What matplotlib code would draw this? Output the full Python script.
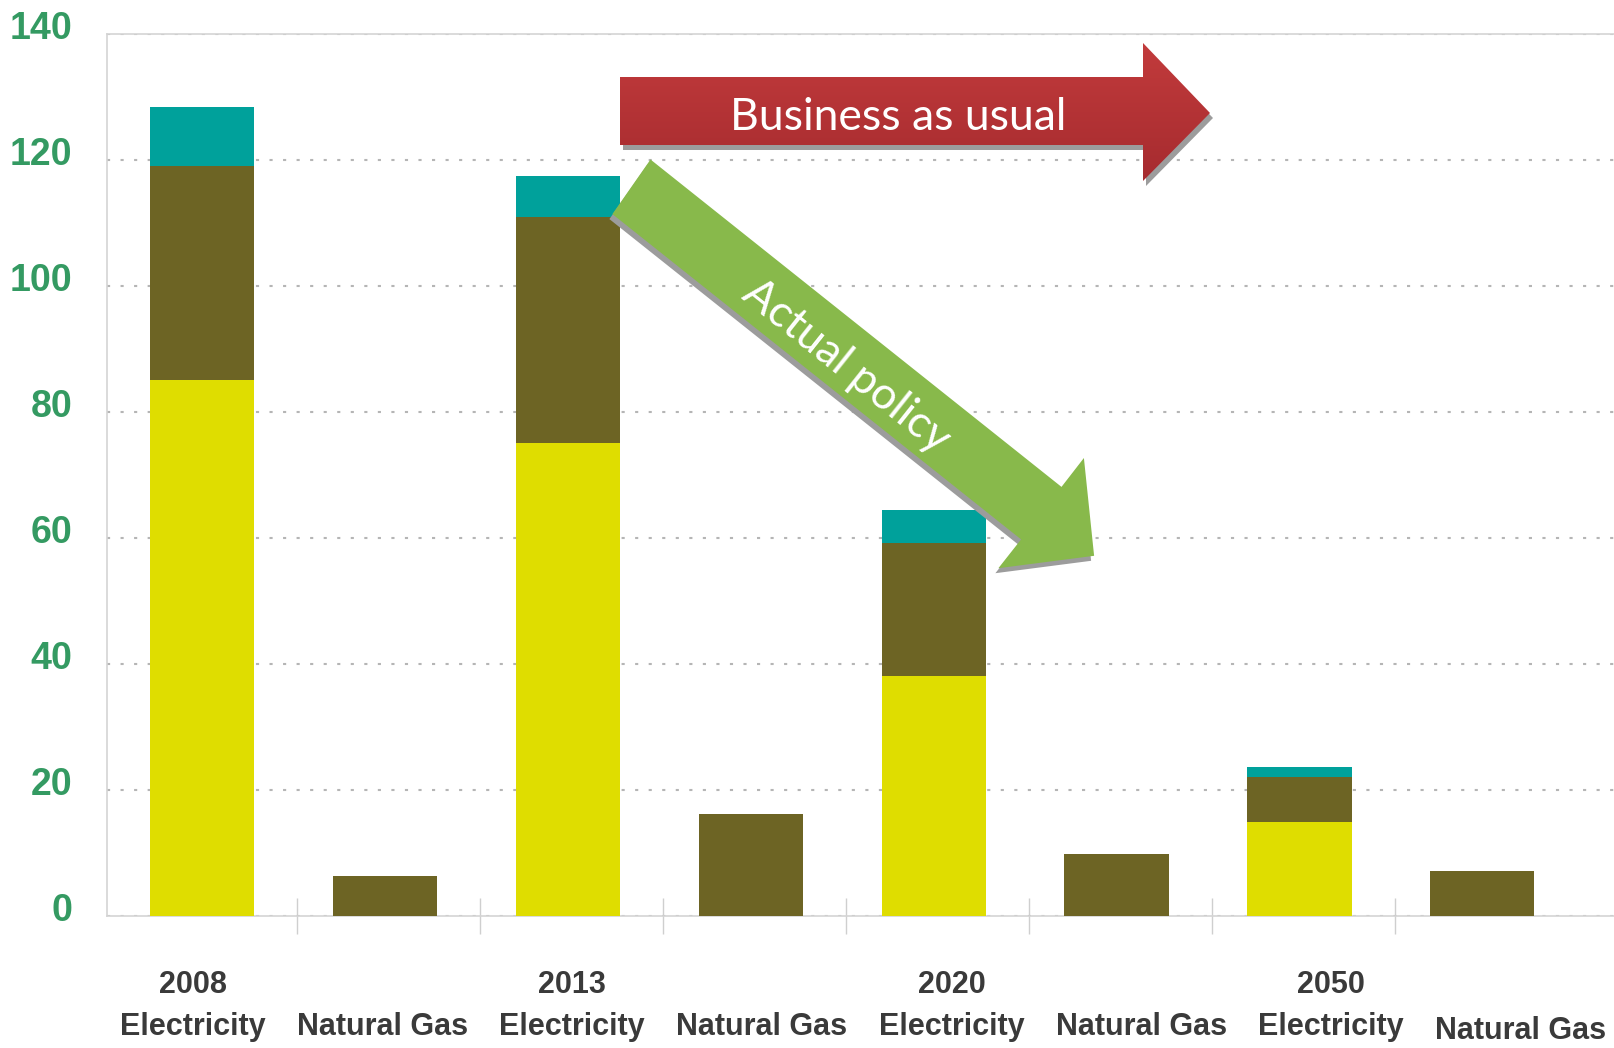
import matplotlib
matplotlib.use("Agg")
import matplotlib.pyplot as plt
import numpy as np
from matplotlib.patches import Polygon
from matplotlib.colors import LinearSegmentedColormap
from matplotlib.transforms import ScaledTranslation, blended_transform_factory

# dados
anos = ['2008', '', '2013', '', '2020', '', '2050', '']
categorias = ['Electricity', 'Natural Gas'] * 4
parte_amarela = [85, 0, 75.1, 0, 38.1, 0, 14.9, 0]
parte_oliva = [34, 6.3, 35.9, 16.2, 21.1, 9.8, 7.2, 7.2]
parte_teal = [9.4, 0, 6.5, 0, 5.3, 0, 1.5, 0]
ticks_y = [0, 20, 40, 60, 80, 100, 120, 140]

cor_amarela = '#dfdd00'
cor_oliva = '#6d6424'
cor_teal = '#00a19b'
cor_verde = '#349a62'
cor_cinza = '#3a3a3a'

fig = plt.figure(figsize=(16.14, 10.48), dpi=100)
ax = fig.add_axes([0.0663, 0.1260, 0.9337, 0.8416])

x = np.arange(len(categorias))
largura = 0.57
base2 = np.array(parte_amarela) + np.array(parte_oliva)
ax.bar(x, parte_amarela, largura, color=cor_amarela, zorder=3)
ax.bar(x, parte_oliva, largura, bottom=parte_amarela, color=cor_oliva, zorder=3)
ax.bar(x, parte_teal, largura, bottom=base2, color=cor_teal, zorder=3)

ax.set_xlim(-0.52, 7.72)
ax.set_ylim(0, 140)
ax.set_yticks(ticks_y)
ax.set_yticklabels([str(t) for t in ticks_y])
ax.tick_params(axis='y', length=0, pad=25, labelsize=27, labelcolor=cor_verde)
for lbl in ax.get_yticklabels():
    lbl.set_fontweight('bold')
    lbl.set_fontfamily('Liberation Sans')
    lbl.set_transform(lbl.get_transform() + ScaledTranslation(0, 0.09, fig.dpi_scale_trans))

# separadores entre categorias
ax.set_xticks([])
ax.set_xticks(x[:-1] + 0.52, minor=True)
ax.tick_params(axis='x', which='minor', direction='inout', length=26, width=1, color='#cfcfcf')

ax.grid(axis='y', color='#b5b5b5', linestyle=(0, (1.5, 5)), linewidth=1.5, zorder=0)
for lado in ['left', 'top', 'bottom']:
    ax.spines[lado].set_color('#d4d4d4')
    ax.spines[lado].set_linewidth(1.2)
ax.spines['right'].set_visible(False)

# rotulos do eixo x
trans = blended_transform_factory(ax.transData, ax.transAxes)
for i in range(len(categorias)):
    xl = i + i * 0.037 - 0.05
    if anos[i]:
        ax.text(xl, -0.078, anos[i], transform=trans, ha='center', va='center',
                fontsize=22, fontweight='bold', color=cor_cinza, family='Liberation Sans')
    yl = -0.131 if i == len(categorias) - 1 else -0.126
    ax.text(xl, yl, categorias[i], transform=trans, ha='center', va='center',
            fontsize=22, fontweight='bold', color=cor_cinza, family='Liberation Sans')

# camada das setas em pixels
ov = fig.add_axes([0, 0, 1, 1], zorder=5)
ov.axis('off')
ov.patch.set_alpha(0)

seta_vermelha = [(620, 77), (1143, 77), (1143, 43), (1210, 113), (1143, 181), (1143, 145), (620, 145)]
sombra = [(px + 3, py + 5) for px, py in seta_vermelha]
ov.add_patch(Polygon(sombra, closed=True, facecolor='#9c9c9c', edgecolor='none'))
poly = Polygon(seta_vermelha, closed=True, facecolor='none', edgecolor='none')
ov.add_patch(poly)
grad = np.linspace(0, 1, 256).reshape(-1, 1)
cmap_v = LinearSegmentedColormap.from_list('v', ['#c23b3c', '#a62b2f'])
im = ov.imshow(grad, cmap=cmap_v, aspect='auto', extent=(620, 1210, 181, 43), zorder=2)
im.set_clip_path(poly)
ov.set_xlim(0, 1614)
ov.set_ylim(1048, 0)
ov.text(898, 118, 'Business as usual', ha='center', va='center', color='white',
        fontsize=32, family='Lato', zorder=4)

seta_verde = [(650.5, 159.5), (1061.5, 486.9), (1083.9, 458.0), (1094.1, 555.8),
              (998.4, 568.2), (1021.1, 539.4), (612.4, 214.1)]
sombra_v = [(px - 3, py + 5) for px, py in seta_verde]
ov.add_patch(Polygon(sombra_v, closed=True, facecolor='#9c9c9c', edgecolor='none', zorder=1))
ov.add_patch(Polygon(seta_verde, closed=True, facecolor='#88b94b', edgecolor='none', zorder=2))
ov.text(846, 366, 'Actual policy', ha='center', va='center', color='white',
        fontsize=32, family='Lato', rotation=-38.5, rotation_mode='anchor', zorder=4)

fig.savefig('out.png', dpi=100)
